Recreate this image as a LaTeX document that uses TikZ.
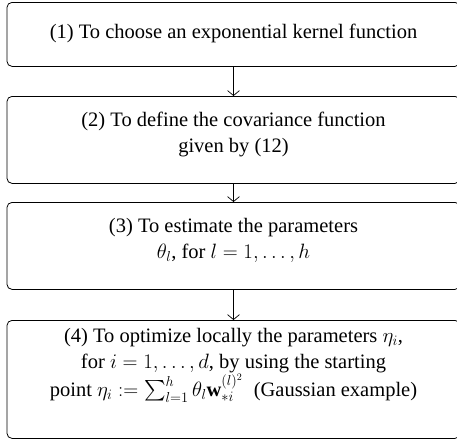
\documentclass[tikz,border=0pt]{standalone}
\usepackage{amsmath}
\usepackage{amssymb}
\usepackage{fontspec}
\setmainfont{Liberation Serif}
\usetikzlibrary{arrows.meta}

\tikzset{
  stepbox/.style={draw, line width=0.8pt, rounded corners=5pt, align=center,
    minimum width=453pt, inner sep=0pt, anchor=north,
    font=\fontsize{20.5}{26}\selectfont},
  flow/.style={line width=0.7pt, -{Straight Barb[length=5pt,width=12pt]}}
}

\begin{document}
\begin{tikzpicture}[x=1pt, y=-1pt]
      \useasboundingbox (0, 0) rectangle (457, 439);
      \node[stepbox, text height=36pt, text depth=28pt] (choose) at (233.5, 2)
        {(1) To choose an exponential kernel function};
      \node[stepbox, text height=56pt, text depth=31pt] (define) at (233.5, 96)
        {(2) To define the covariance function\\ given by (12)};
      \node[stepbox, text height=56pt, text depth=31pt] (estimate) at (233.5, 202)
        {(3) To estimate the parameters\\ $\theta_l$, for $l = 1, \ldots, h$};
      \node[stepbox, text height=76pt, text depth=42pt] (optimize) at (233.5, 320)
        {(4) To optimize locally the parameters $\eta_i$,\\
         for $i = 1, \ldots, d$, by using the starting\\
         point $\eta_i \mathrel{:=} \smash{\sum_{l=1}^{h}}\, \theta_l \mathbf{w}_{*i}^{(l)^2}$\; (Gaussian example)};
      \draw[flow] (choose) -- (define);
      \draw[flow] (define) -- (estimate);
      \draw[flow] (estimate) -- (optimize);
    \end{tikzpicture}
\end{document}
